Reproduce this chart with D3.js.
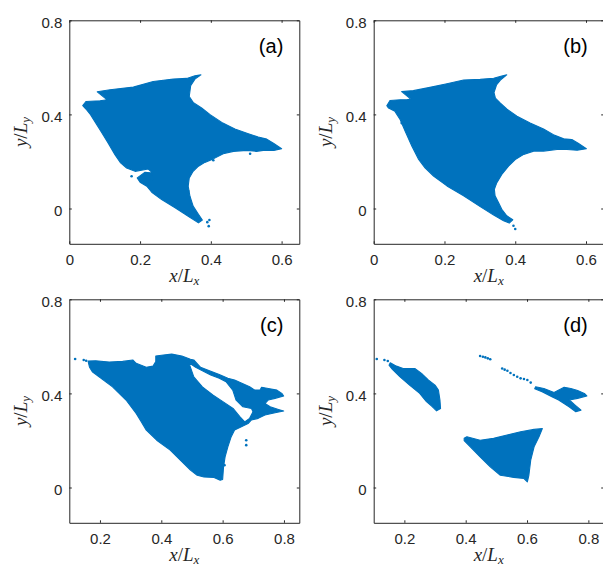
<!DOCTYPE html>
<html>
<head>
<meta charset="utf-8">
<script src="https://cdn.jsdelivr.net/npm/d3@7"></script>
<style>
  html, body { margin: 0; padding: 0; background: #fff; }
  svg { display: block; }
</style>
</head>
<body>
<svg id="chart" width="603" height="570"></svg>
<script>
// ---------- axis settings ----------
const panelLetters = ["(a)", "(b)", "(c)", "(d)"];
const xDomainTop = [0, 0.65];
const xDomainBottom = [0.1, 0.85];
const yDomain = [-0.15, 0.8];
const xTicksTop = [0, 0.2, 0.4, 0.6];
const xTicksBottom = [0.2, 0.4, 0.6, 0.8];
const yTicks = [0, 0.4, 0.8];

// ---------- occupied region, snapshot (a) ----------
const regionA = [
  [0.038,0.437],[0.047,0.455],[0.087,0.458],[0.107,0.462],[0.079,0.496],[0.115,0.505],
  [0.181,0.516],[0.237,0.540],[0.294,0.550],[0.332,0.553],[0.355,0.564],[0.372,0.568],
  [0.355,0.550],[0.343,0.522],[0.339,0.476],[0.350,0.451],[0.374,0.427],[0.398,0.399],
  [0.431,0.366],[0.468,0.338],[0.506,0.318],[0.534,0.304],[0.558,0.295],[0.578,0.276],
  [0.600,0.254],[0.578,0.247],[0.548,0.247],[0.529,0.243],[0.501,0.247],[0.464,0.243],
  [0.435,0.233],[0.407,0.211],[0.383,0.196],[0.365,0.180],[0.350,0.158],[0.339,0.130],
  [0.336,0.095],[0.341,0.052],[0.350,0.010],[0.365,-0.025],[0.376,-0.049],[0.365,-0.061],
  [0.336,-0.033],[0.299,0.003],[0.261,0.038],[0.233,0.069],[0.219,0.095],[0.200,0.112],
  [0.192,0.130],[0.214,0.154],[0.236,0.151],[0.223,0.168],[0.186,0.158],[0.162,0.172],
  [0.145,0.194],[0.129,0.229],[0.110,0.278],[0.091,0.324],[0.075,0.363],[0.060,0.399],
  [0.047,0.423]
];
const dotsA = [
  [0.396,-0.049],[0.394,-0.075],[0.390,-0.058],[0.407,0.205],[0.511,0.233],
  [0.336,0.074],[0.176,0.137],[0.233,0.123],[0.237,0.144]
];

// ---------- occupied region, snapshot (b) ----------
const regionB = [
  [0.037,0.437],[0.046,0.459],[0.075,0.462],[0.093,0.462],[0.105,0.465],[0.079,0.497],
  [0.112,0.501],[0.159,0.515],[0.207,0.530],[0.254,0.546],[0.301,0.549],[0.339,0.554],
  [0.362,0.563],[0.376,0.568],[0.358,0.546],[0.347,0.525],[0.340,0.493],[0.344,0.469],
  [0.358,0.448],[0.376,0.423],[0.405,0.392],[0.442,0.363],[0.480,0.338],[0.508,0.314],
  [0.537,0.296],[0.560,0.293],[0.579,0.276],[0.601,0.254],[0.575,0.248],[0.546,0.251],
  [0.518,0.251],[0.480,0.244],[0.452,0.244],[0.424,0.230],[0.400,0.208],[0.381,0.180],
  [0.362,0.145],[0.348,0.110],[0.341,0.082],[0.343,0.054],[0.353,0.025],[0.362,-0.003],
  [0.376,-0.031],[0.393,-0.048],[0.383,-0.062],[0.367,-0.052],[0.339,-0.028],[0.301,0.008],
  [0.254,0.054],[0.207,0.096],[0.169,0.138],[0.145,0.173],[0.126,0.211],[0.108,0.265],
  [0.089,0.328],[0.075,0.377],[0.060,0.413],[0.042,0.427]
];
const dotsB = [
  [0.400,-0.087],[0.395,-0.073],[0.126,0.237],[0.148,0.197],[0.079,0.363]
];

// ---------- occupied region, snapshot (c) ----------
const regionC = [
  [0.161,0.538],[0.186,0.539],[0.230,0.533],[0.274,0.536],[0.307,0.542],[0.318,0.528],
  [0.351,0.511],[0.373,0.516],[0.382,0.535],[0.382,0.559],[0.407,0.563],[0.434,0.567],
  [0.467,0.559],[0.495,0.545],[0.506,0.542],[0.528,0.511],[0.557,0.496],[0.589,0.480],
  [0.617,0.464],[0.639,0.457],[0.688,0.428],[0.705,0.414],[0.722,0.414],[0.727,0.426],
  [0.749,0.421],[0.777,0.414],[0.793,0.400],[0.799,0.389],[0.771,0.379],[0.749,0.372],
  [0.738,0.357],[0.755,0.343],[0.782,0.332],[0.799,0.325],[0.771,0.318],[0.738,0.308],
  [0.716,0.294],[0.694,0.287],[0.683,0.272],[0.661,0.258],[0.639,0.244],[0.628,0.216],
  [0.617,0.173],[0.608,0.130],[0.603,0.088],[0.600,0.034],[0.592,0.031],[0.572,0.043],
  [0.539,0.045],[0.517,0.052],[0.495,0.074],[0.462,0.116],[0.429,0.159],[0.385,0.201],
  [0.351,0.244],[0.335,0.279],[0.318,0.315],[0.285,0.372],[0.241,0.428],[0.197,0.471],
  [0.175,0.492],[0.166,0.511]
];
const holeC = [
  [0.490,0.530],[0.506,0.470],[0.534,0.428],[0.568,0.393],[0.601,0.365],[0.634,0.336],
  [0.656,0.301],[0.672,0.279],[0.688,0.294],[0.699,0.322],[0.694,0.336],[0.666,0.343],
  [0.644,0.371],[0.633,0.414],[0.611,0.450],[0.589,0.464],[0.561,0.478],[0.534,0.496],
  [0.512,0.511]
];
const dotsC = [
  [0.119,0.546],[0.147,0.542],[0.155,0.539],[0.677,0.201],[0.677,0.180],[0.606,0.095]
];

// ---------- occupied regions, snapshot (d) ----------
const regionD1 = [
  [0.154,0.530],[0.174,0.516],[0.196,0.506],[0.234,0.506],[0.256,0.485],[0.278,0.457],
  [0.300,0.435],[0.311,0.414],[0.316,0.372],[0.318,0.336],[0.305,0.326],[0.289,0.346],
  [0.272,0.365],[0.250,0.400],[0.217,0.435],[0.185,0.471],[0.161,0.502],[0.150,0.520]
];
const regionD2 = [
  [0.395,0.209],[0.404,0.216],[0.447,0.201],[0.491,0.209],[0.535,0.223],[0.579,0.237],
  [0.623,0.247],[0.650,0.251],[0.639,0.216],[0.623,0.173],[0.612,0.116],[0.606,0.052],
  [0.601,0.024],[0.590,0.038],[0.557,0.043],[0.513,0.052],[0.480,0.088],[0.447,0.130],
  [0.415,0.173],[0.395,0.199]
];
const regionD3 = [
  [0.628,0.428],[0.655,0.421],[0.688,0.404],[0.721,0.426],[0.743,0.421],[0.765,0.412],
  [0.787,0.400],[0.795,0.389],[0.765,0.379],[0.738,0.372],[0.755,0.352],[0.776,0.329],
  [0.759,0.322],[0.737,0.343],[0.703,0.372],[0.681,0.386],[0.649,0.407],[0.625,0.420]
];
const dotsD = [
  [0.110,0.546],[0.135,0.542],[0.146,0.538],
  [0.447,0.559],[0.456,0.556],[0.464,0.553],[0.472,0.549],[0.480,0.545],
  [0.519,0.506],[0.527,0.501],[0.536,0.496],[0.546,0.487],[0.557,0.478],
  [0.568,0.471],[0.579,0.464],[0.590,0.461],[0.601,0.457],[0.612,0.446]
];

// ---------- layout ----------
const panels = [
  { letter: panelLetters[0], left: 69.3,  top: 20.3,  xDomain: xDomainTop,    xTicks: xTicksTop,
    regions: [{ outer: regionA, holes: [] }], dots: dotsA },
  { letter: panelLetters[1], left: 373.7, top: 20.3,  xDomain: xDomainTop,    xTicks: xTicksTop,
    regions: [{ outer: regionB, holes: [] }], dots: dotsB },
  { letter: panelLetters[2], left: 69.3,  top: 299.3, xDomain: xDomainBottom, xTicks: xTicksBottom,
    regions: [{ outer: regionC, holes: [holeC] }], dots: dotsC },
  { letter: panelLetters[3], left: 373.7, top: 299.3, xDomain: xDomainBottom, xTicks: xTicksBottom,
    regions: [{ outer: regionD1, holes: [] }, { outer: regionD2, holes: [] }, { outer: regionD3, holes: [] }],
    dots: dotsD }
];

const W = 230, H = 223.5;
const BLUE = "#0072bd";
const INK = "#262626";
const TICK = 2.5;
const sansFont = "'Liberation Sans', Arial, Helvetica, sans-serif";
const serifFont = "'Liberation Serif', 'Times New Roman', serif";

const svg = d3.select("#chart");

panels.forEach(p => {
  const x = d3.scaleLinear().domain(p.xDomain).range([0, W]);
  const y = d3.scaleLinear().domain(yDomain).range([H, 0]);
  const g = svg.append("g").attr("transform", `translate(${p.left},${p.top})`);

  const line = d3.line().x(d => x(d[0])).y(d => y(d[1])).curve(d3.curveLinearClosed);

  // filled regions (holes cut out with even-odd rule)
  g.selectAll("path.region").data(p.regions).enter().append("path")
    .attr("class", "region")
    .attr("d", r => [r.outer, ...r.holes].map(ring => line(ring)).join(""))
    .attr("fill", BLUE)
    .attr("fill-rule", "evenodd")
    .attr("stroke", BLUE)
    .attr("stroke-width", 1.1)
    .attr("stroke-linejoin", "round");

  // isolated particles
  g.selectAll("circle.dot").data(p.dots).enter().append("circle")
    .attr("class", "dot")
    .attr("cx", d => x(d[0]))
    .attr("cy", d => y(d[1]))
    .attr("r", 1.3)
    .attr("fill", BLUE);

  // axes: bottom/left with labels, top/right mirrored ticks only
  const axStyle = sel => {
    sel.select(".domain").attr("stroke", INK).attr("stroke-width", 1);
    sel.selectAll(".tick line").attr("stroke", INK).attr("stroke-width", 1);
    sel.selectAll(".tick text").attr("fill", INK)
      .style("font-family", sansFont).style("font-size", "15px");
  };
  const fmt = d => d === 0 ? "0" : d3.format(".1f")(d);

  g.append("g").attr("transform", `translate(0,${H})`)
    .call(d3.axisBottom(x).tickValues(p.xTicks).tickSizeInner(-TICK).tickSizeOuter(0)
      .tickPadding(11).tickFormat(fmt))
    .call(axStyle);
  g.append("g")
    .call(d3.axisTop(x).tickValues(p.xTicks).tickSizeInner(-TICK).tickSizeOuter(0).tickFormat(""))
    .call(axStyle);
  g.append("g")
    .call(d3.axisLeft(y).tickValues(yTicks).tickSizeInner(-TICK).tickSizeOuter(0)
      .tickPadding(7).tickFormat(fmt))
    .call(axStyle)
    .selectAll(".tick text").attr("dy", "0.45em");
  g.append("g").attr("transform", `translate(${W},0)`)
    .call(d3.axisRight(y).tickValues(yTicks).tickSizeInner(-TICK).tickSizeOuter(0).tickFormat(""))
    .call(axStyle);

  // axis titles  x/L_x  and  y/L_y
  const xt = g.append("text")
    .attr("x", W / 2).attr("y", H + 38.5)
    .attr("text-anchor", "middle")
    .style("font-family", serifFont).style("font-size", "19px").attr("fill", INK);
  xt.append("tspan").style("font-style", "italic").text("x");
  xt.append("tspan").text("/");
  xt.append("tspan").style("font-style", "italic").text("L");
  xt.append("tspan").style("font-style", "italic").style("font-size", "13px").attr("dy", 3).text("x");

  const yt = g.append("text")
    .attr("transform", `translate(${-42},${H / 2}) rotate(-90)`)
    .attr("text-anchor", "middle")
    .style("font-family", serifFont).style("font-size", "19px").attr("fill", INK);
  yt.append("tspan").style("font-style", "italic").text("y");
  yt.append("tspan").text("/");
  yt.append("tspan").style("font-style", "italic").text("L");
  yt.append("tspan").style("font-style", "italic").style("font-size", "13px").attr("dy", 3).text("y");

  // panel letter
  g.append("text")
    .attr("x", W - 16).attr("y", 33)
    .attr("text-anchor", "end")
    .style("font-family", sansFont).style("font-size", "20px").attr("fill", "#000")
    .text(p.letter);
});
</script>
</body>
</html>
